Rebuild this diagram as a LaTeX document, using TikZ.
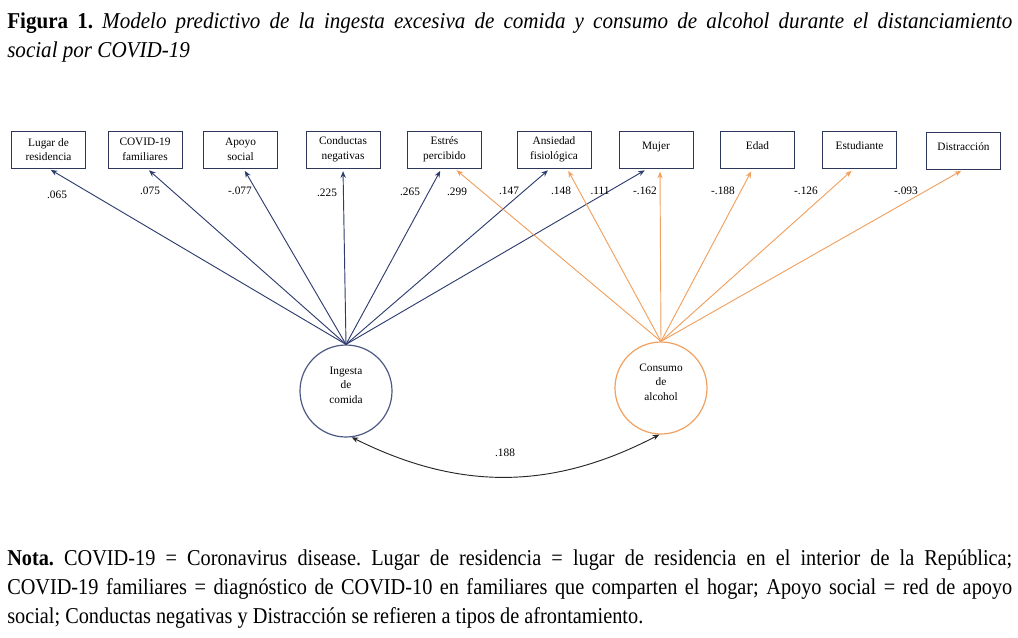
\documentclass[tikz,border=0pt]{standalone}
\usepackage{fontspec}
\setmainfont{Liberation Serif}
\newfontfamily\titfont[FakeStretch=0.93]{Liberation Serif}
\newfontfamily\notfont[FakeStretch=0.895]{Liberation Serif}
\frenchspacing
\usepackage{tikz}
\usetikzlibrary{arrows.meta}
\usetikzlibrary{calc}

\definecolor{azul}{RGB}{46,61,110}
\definecolor{naranja}{RGB}{240,160,95}
\definecolor{borde}{RGB}{45,55,90}

\tikzset{
	caja/.style={draw=borde, line width=0.75pt, minimum width=55.5pt, minimum height=27.75pt, inner sep=1pt, align=center, font=\fontsize{8.5}{11}\selectfont},
	caja1/.style={caja, text depth=6pt},
	lat/.style={circle, minimum size=69pt, inner sep=0pt, line width=0.9pt, align=center, text depth=9pt, font=\fontsize{8.5}{11}\selectfont},
	peso/.style={font=\fontsize{8.5}{10}\selectfont, inner sep=0pt},
	parrafo/.style={anchor=base west, inner sep=0pt, text width=753.75pt, align=justify},
	fa/.style={azul, line width=0.7pt, -{Stealth[length=5pt,width=4pt]}, shorten >=2pt},
	fn/.style={naranja, line width=0.7pt, -{Stealth[length=5pt,width=4pt]}, shorten >=2pt}
}

\begin{document}
\begin{tikzpicture}[x=0.75pt, y=-0.75pt]
		\useasboundingbox (0,0) rectangle (1018,637);
		\node[parrafo, font=\titfont\fontsize{17}{21.75}\selectfont] (tit) at (7,28)
		{\textbf{Figura 1.} \textit{Modelo predictivo de la ingesta excesiva de comida y consumo de alcohol durante el distanciamiento\linebreak social por COVID-19}};

		% cajas
		\node[caja] (lug) at (48.5,149.5) {Lugar de\\residencia};
		\node[caja] (cov) at (145,149.5) {COVID-19\\familiares};
		\node[caja] (apo) at (240.5,149.5) {Apoyo\\social};
		\node[caja] (con) at (343,149.5) {Conductas\\negativas};
		\node[caja] (est) at (444.5,149.5) {Estrés\\percibido};
		\node[caja] (ans) at (554,149.5) {Ansiedad\\fisiológica};
		\node[caja1] (muj) at (656,150) {Mujer};
		\node[caja1] (eda) at (757.5,150) {Edad};
		\node[caja1] (estu) at (859.5,150) {Estudiante};
		\node[caja1] (dis) at (963.5,150.5) {Distracción};

		% latentes
		\node[lat, draw=azul!85!white] (ing) at (346,391) {Ingesta\\de\\comida};
		\node[lat, draw=naranja] (alc) at (661,388) {Consumo\\de\\alcohol};

		%\path[->,font=\scriptsize]
		\path[fa]
		(ing.north) edge (lug.south)
		(ing.north) edge ($(cov.south)+(2,0)$)
		(ing.north) edge ($(apo.south)+(3,0)$)
		(ing.north) edge (con.south)
		(ing.north) edge ($(est.south)+(-3,0)$)
		(ing.north) edge ($(ans.south)+(-4,0)$)
		(ing.north) edge ($(muj.south)+(-9,0)$);
		\path[fn]
		(alc.north) edge ($(est.south)+(10,0)$)
		(alc.north) edge ($(ans.south)+(13,0)$)
		(alc.north) edge ($(muj.south)+(4,0)$)
		(alc.north) edge ($(eda.south)+(-5,0)$)
		(alc.north) edge ($(estu.south)+(-6,0)$)
		(alc.north) edge (dis.south);

		% pesos
		\node[peso] (p1) at (57,195) {.065};
		\node[peso] (p2) at (150,191) {.075};
		\node[peso] (p3) at (240,191) {-.077};
		\node[peso] (p4) at (327,193) {.225};
		\node[peso] (p5) at (410,192) {.265};
		\node[peso] (p6) at (457,192) {.299};
		\node[peso] (p7) at (509,191) {.147};
		\node[peso] (p8) at (561,191) {.148};
		\node[peso] (p9) at (600,191) {.111};
		\node[peso] (p10) at (645,191) {-.162};
		\node[peso] (p11) at (723,191) {-.188};
		\node[peso] (p12) at (806,191) {-.126};
		\node[peso] (p13) at (906,191) {-.093};

		% covarianza
		\draw[black!85, line width=0.7pt, {Stealth[length=5pt,width=4pt]}-{Stealth[length=5pt,width=4pt]}]
		(ing.-83) to[bend right=27] (alc.-92);
		\node[peso] (cv) at (505,453) {.188};

		\node[parrafo, font=\notfont\fontsize{17}{21.75}\selectfont] (nota) at (7,565)
		{\textbf{Nota.} COVID-19 = Coronavirus disease. Lugar de residencia = lugar de residencia en el interior de la República;\linebreak COVID-19 familiares = diagnóstico de COVID-10 en familiares que comparten el hogar; Apoyo social = red de apoyo\linebreak social; Conductas negativas y Distracción se refieren a tipos de afrontamiento.};
\end{tikzpicture}
\end{document}
